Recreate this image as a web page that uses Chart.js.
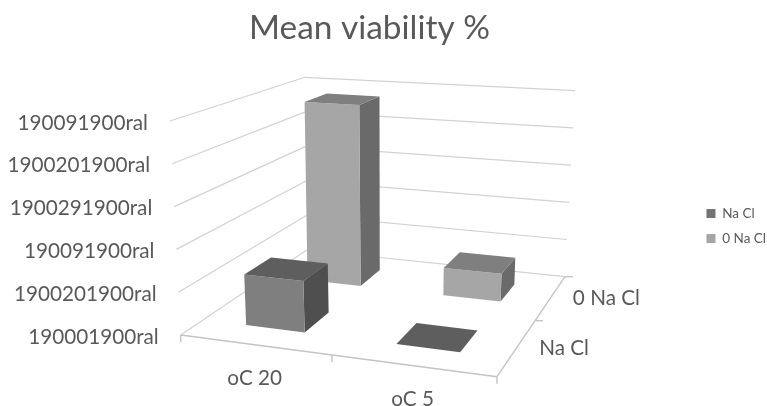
<!DOCTYPE html>
<html>
<head>
<meta charset="utf-8">
<title>Mean viability %</title>
<script src="https://cdn.jsdelivr.net/npm/chart.js@4"></script>
<style>
  html, body { margin: 0; background: #fff; overflow: hidden; }
  #wrap { width: 767px; height: 406px; }
</style>
</head>
<body>
<div id="wrap"><canvas id="viabilityChart"></canvas></div>
<script>
const categories = ["oC 20", "oC 5"];
const seriesNames = ["Na Cl", "0 Na Cl"];
const naClValues = [1.21, 0];
const noNaClValues = [4.75, 0.7];
const tickLabels = ["190001900ral", "1900201900ral", "190091900ral", "1900291900ral", "1900201900ral", "190091900ral"];

const FONT = "Lato, Carlito, sans-serif";
const TEXT = "#595959";
const GRID = "#d2d2d2";
const EDGE = "#c4c4c4";
const BAR_SHARE = 0.4; // bar size inside its category band

// view of the box: where its corners land on the canvas [front-left, front-right, back-right, back-left]
const floorView = [[180.7, 335], [497, 376.7], [565, 276.7], [306.7, 250]];
const ceilingView = [[170, 121], [504.7, 144.5], [575, 90.7], [305, 77.3]];

function homography(q) {
  const [a, b, c, d] = q;
  const dx1 = b[0] - c[0], dx2 = d[0] - c[0], sx = a[0] - b[0] + c[0] - d[0];
  const dy1 = b[1] - c[1], dy2 = d[1] - c[1], sy = a[1] - b[1] + c[1] - d[1];
  const den = dx1 * dy2 - dx2 * dy1;
  const g = (sx * dy2 - dx2 * sy) / den;
  const h = (dx1 * sy - sx * dy1) / den;
  return (u, v) => {
    const w = 1 + g * u + h * v;
    return [
      (a[0] + (b[0] * (1 + g) - a[0]) * u + (d[0] * (1 + h) - a[0]) * v) / w,
      (a[1] + (b[1] * (1 + g) - a[1]) * u + (d[1] * (1 + h) - a[1]) * v) / w
    ];
  };
}
const floorAt = homography(floorView);
const ceilingAt = homography(ceilingView);

// u, v, f are all 0..1: along the categories, into the depth, up the value axis
function project(u, v, f) {
  const p = floorAt(u, v), q = ceilingAt(u, v);
  return [p[0] + (q[0] - p[0]) * f, p[1] + (q[1] - p[1]) * f];
}

function poly(ctx, pts, fill) {
  ctx.beginPath();
  pts.forEach((p, i) => (i ? ctx.lineTo(p[0], p[1]) : ctx.moveTo(p[0], p[1])));
  ctx.closePath();
  ctx.fillStyle = fill;
  ctx.fill();
}

function seg(ctx, a, b) {
  ctx.beginPath();
  ctx.moveTo(a[0], a[1]);
  ctx.lineTo(b[0], b[1]);
  ctx.stroke();
}

const shares = chart => ({
  u: i => (chart.scales.x.getPixelForValue(i) - chart.scales.x.left) / chart.scales.x.width,
  v: i => (chart.scales.depth.getPixelForValue(i) - chart.scales.depth.top) / chart.scales.depth.height,
  f: val => (chart.scales.y.bottom - chart.scales.y.getPixelForValue(val)) / chart.scales.y.height
});

class Bar3DController extends Chart.BarController {
  draw() {
    const chart = this.chart, ctx = chart.ctx, s = shares(chart);
    const data = this.getDataset().data;
    const colors = this.getDataset().faces;
    const halfU = BAR_SHARE / categories.length / 2;
    const halfV = BAR_SHARE / seriesNames.length / 2;
    const v = s.v(this.index);
    data.forEach((val, i) => {
      const u = s.u(i), f = s.f(val);
      const u0 = u - halfU, u1 = u + halfU, v0 = v - halfV, v1 = v + halfV;
      poly(ctx, [project(u1, v0, 0), project(u1, v1, 0), project(u1, v1, f), project(u1, v0, f)], colors.side);
      poly(ctx, [project(u0, v0, 0), project(u1, v0, 0), project(u1, v0, f), project(u0, v0, f)], colors.front);
      poly(ctx, [project(u0, v0, f), project(u1, v0, f), project(u1, v1, f), project(u0, v1, f)], colors.top);
    });
  }
}
Bar3DController.id = "bar3d";
Bar3DController.defaults = Chart.BarController.defaults;
Chart.register(Bar3DController);

const box3d = {
  id: "box3d",
  beforeDatasetsDraw(chart) {
    const ctx = chart.ctx, s = shares(chart);
    ctx.save();
    ctx.strokeStyle = GRID;
    ctx.lineWidth = 1.2;
    // gridlines on the side and back walls
    tickLabels.forEach((t, i) => {
      const f = s.f(i);
      seg(ctx, project(0, 0, f), project(0, 1, f));
      seg(ctx, project(0, 1, f), project(1, 1, f));
    });
    // floor edges and tick marks
    ctx.strokeStyle = EDGE;
    ctx.lineWidth = 1.4;
    seg(ctx, project(0, 0, 0), project(1, 0, 0));
    seg(ctx, project(1, 0, 0), project(1, 1, 0));
    [0, 0.5, 1].forEach(k => {
      const a = project(k, 0, 0);
      seg(ctx, a, [a[0], a[1] + 7]);
      const b = project(1, k, 0);
      if (k > 0) seg(ctx, b, [b[0] + 8, b[1]]);
    });
    ctx.restore();
  },
  afterDraw(chart) {
    const ctx = chart.ctx, s = shares(chart);
    ctx.save();
    ctx.fillStyle = TEXT;
    ctx.font = "20.7px " + FONT;
    ctx.textBaseline = "middle";
    ctx.textAlign = "right";
    tickLabels.forEach((t, i) => {
      const p = project(0, 0, s.f(i));
      ctx.fillText(t, p[0] - 22, p[1] + 2);
    });
    ctx.textAlign = "center";
    categories.forEach((c, i) => {
      const p = project(s.u(i), 0, 0);
      ctx.fillText(c, p[0], p[1] + 34);
    });
    ctx.textAlign = "left";
    seriesNames.forEach((n, i) => {
      const p = project(1, s.v(i), 0);
      ctx.fillText(n, p[0] + 22, p[1] + 1);
    });
    ctx.restore();
  }
};

new Chart(document.getElementById("viabilityChart"), {
  type: "bar3d",
  data: {
    labels: categories,
    datasets: [
      {
        label: seriesNames[0],
        data: naClValues,
        backgroundColor: "#737373",
        faces: { front: "#7f7f7f", top: "#5e5e5e", side: "#4f4f4f" }
      },
      {
        label: seriesNames[1],
        data: noNaClValues,
        backgroundColor: "#a5a5a5",
        faces: { front: "#a6a6a6", top: "#7f7f7f", side: "#6a6a6a" }
      }
    ]
  },
  plugins: [box3d],
  options: {
    responsive: true,
    maintainAspectRatio: false,
    animation: false,
    events: [],
    layout: { padding: { left: 44, right: -9, bottom: 12 } },
    scales: {
      x: { type: "category", offset: true, display: false },
      y: { type: "linear", min: 0, max: tickLabels.length - 1, display: false },
      depth: { type: "category", axis: "y", labels: seriesNames, offset: true, display: false }
    },
    plugins: {
      tooltip: { enabled: false },
      title: {
        display: true,
        text: "Mean viability %",
        fullSize: false,
        color: TEXT,
        font: { family: FONT, size: 33.4, weight: "normal" },
        padding: { top: 8, bottom: 10 }
      },
      legend: {
        position: "right",
        fullSize: false,
        labels: {
          boxWidth: 9,
          boxHeight: 9,
          padding: 11.5,
          color: TEXT,
          font: { family: FONT, size: 13.5 }
        }
      }
    }
  }
});
</script>
</body>
</html>
